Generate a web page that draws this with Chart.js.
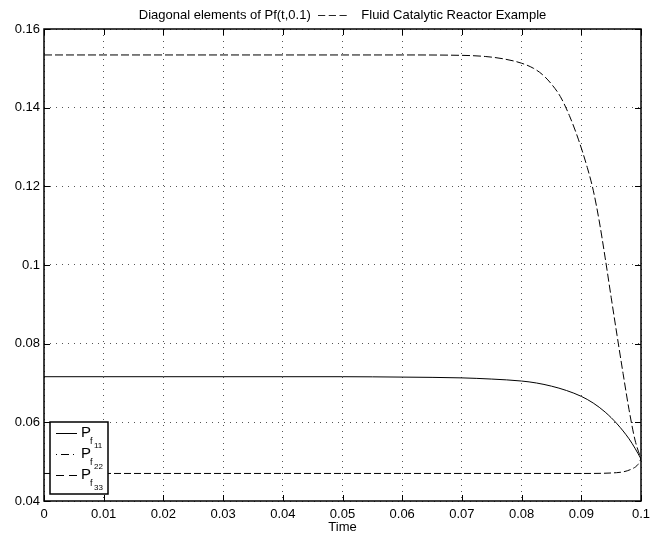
<!DOCTYPE html>
<html><head><meta charset="utf-8">
<script src="https://cdn.jsdelivr.net/npm/chart.js@4/dist/chart.umd.min.js"></script>
<style>html,body{margin:0;padding:0;background:#fff}canvas{display:block}</style>
</head><body>
<canvas id="c" width="662" height="536"></canvas>
<script>
const titleText = "Diagonal elements of Pf(t,0.1)  \u2013 \u2013 \u2013    Fluid Catalytic Reactor Example";
const xAxisTitle = "Time";
const xTickValues = [0, 0.01, 0.02, 0.03, 0.04, 0.05, 0.06, 0.07, 0.08, 0.09, 0.1];
const yTickValues = [0.04, 0.06, 0.08, 0.1, 0.12, 0.14, 0.16];

const p11Time = [0, 0.01, 0.02, 0.03, 0.04, 0.05, 0.06, 0.07, 0.075, 0.08, 0.0825, 0.085, 0.0875, 0.09, 0.092, 0.094, 0.096, 0.098, 0.099, 0.1];
const p11 = [0.0716, 0.0716, 0.0716, 0.0716, 0.0716, 0.0716, 0.0715, 0.0713, 0.0710, 0.0705, 0.0700, 0.0692, 0.0681, 0.0666, 0.0649, 0.0626, 0.0596, 0.0558, 0.0534, 0.0507];

const p22Time = [0, 0.01, 0.02, 0.03, 0.04, 0.05, 0.06, 0.07, 0.074, 0.077, 0.08, 0.082, 0.0835, 0.085, 0.0865, 0.088, 0.0895, 0.091, 0.092, 0.093, 0.094, 0.095, 0.096, 0.097, 0.098, 0.099, 0.1];
const p22 = [0.1534, 0.1534, 0.1534, 0.1534, 0.1534, 0.1534, 0.1534, 0.1533, 0.1530, 0.1524, 0.1513, 0.1500, 0.1484, 0.1460, 0.1428, 0.1380, 0.1320, 0.1248, 0.1190, 0.1112, 0.1018, 0.0918, 0.0820, 0.0724, 0.0632, 0.0555, 0.0507];

const p33Time = [0, 0.01, 0.02, 0.03, 0.04, 0.05, 0.06, 0.07, 0.08, 0.09, 0.0959, 0.0984, 0.0995, 0.1];
const p33 = [0.0470, 0.0470, 0.0470, 0.0470, 0.0470, 0.0470, 0.0470, 0.0470, 0.0470, 0.0470, 0.0472, 0.0481, 0.0493, 0.0507];

const legendNames = ["11", "22", "33"];

const FONT = "'Liberation Sans', Arial, Helvetica, sans-serif";
const fmt = v => String(parseFloat(Number(v).toFixed(4)));
const pts = (t, v) => t.map((x, i) => ({x: x, y: v[i]}));

const deco = {
  id: 'deco',
  afterDatasetsDraw(chart) {
    const ctx = chart.ctx, a = chart.chartArea;
    const xs = chart.scales.x, ys = chart.scales.y;
    ctx.save();
    ctx.strokeStyle = '#000';
    ctx.lineWidth = 1;
    ctx.beginPath();
    xTickValues.forEach(v => {
      const p = Math.round(xs.getPixelForValue(v)) + 0.5;
      ctx.moveTo(p, a.bottom); ctx.lineTo(p, a.bottom - 6);
      ctx.moveTo(p, a.top); ctx.lineTo(p, a.top + 6);
    });
    yTickValues.forEach(v => {
      const p = Math.round(ys.getPixelForValue(v)) + 0.5;
      ctx.moveTo(a.left, p); ctx.lineTo(a.left + 6, p);
      ctx.moveTo(a.right, p); ctx.lineTo(a.right - 6, p);
    });
    ctx.stroke();
    ctx.lineWidth = 1.5;
    ctx.strokeRect(a.left, a.top, a.right - a.left, a.bottom - a.top);
    ctx.fillStyle = '#000';
    ctx.font = "13px " + FONT;
    ctx.textAlign = 'center';
    ctx.textBaseline = 'alphabetic';
    ctx.fillText(titleText, (a.left + a.right) / 2, 19);
    ctx.restore();
  },
  afterDraw(chart) {
    const ctx = chart.ctx;
    ctx.save();
    const bx = 50, by = 422, bw = 58, bh = 72;
    ctx.fillStyle = '#fff';
    ctx.fillRect(bx, by, bw, bh);
    ctx.strokeStyle = '#000';
    ctx.lineWidth = 1.5;
    ctx.strokeRect(bx, by, bw, bh);
    const rows = [433, 454, 475];
    const dashes = [[], [1, 4, 8, 4], [8, 5]];
    rows.forEach((y, i) => {
      ctx.beginPath();
      ctx.setLineDash(dashes[i]);
      ctx.lineWidth = 1;
      ctx.moveTo(56, y + 0.5); ctx.lineTo(77, y + 0.5);
      ctx.stroke();
      ctx.setLineDash([]);
      ctx.fillStyle = '#000';
      ctx.textAlign = 'left';
      ctx.textBaseline = 'alphabetic';
      ctx.font = "15px " + FONT;
      ctx.fillText("P", 81, y + 4);
      ctx.font = "9px " + FONT;
      ctx.fillText("f", 90, y + 11);
      ctx.font = "8px " + FONT;
      ctx.fillText(legendNames[i], 94, y + 15);
    });
    ctx.restore();
  }
};

new Chart(document.getElementById('c'), {
  type: 'line',
  data: {
    datasets: [
      {label: 'P_f11', data: pts(p11Time, p11), borderColor: '#000', borderWidth: 1, pointRadius: 0, cubicInterpolationMode: 'monotone'},
      {label: 'P_f22', data: pts(p22Time, p22), borderColor: '#000', borderWidth: 1, borderDash: [8, 3], pointRadius: 0, cubicInterpolationMode: 'monotone'},
      {label: 'P_f33', data: pts(p33Time, p33), borderColor: '#000', borderWidth: 1, borderDash: [7, 3], pointRadius: 0, cubicInterpolationMode: 'monotone'}
    ]
  },
  options: {
    responsive: false,
    animation: false,
    devicePixelRatio: 1,
    layout: {padding: {top: 29, right: 21, left: 0, bottom: 0}},
    plugins: {legend: {display: false}, tooltip: {enabled: false}, title: {display: false}},
    scales: {
      x: {
        type: 'linear', min: 0, max: 0.1,
        afterBuildTicks: s => { s.ticks = xTickValues.map(v => ({value: v})); },
        afterFit: s => { s.height = 35; },
        grid: {color: '#555', lineWidth: 1, drawTicks: false, borderDash: [1, 5]},
        border: {display: false, dash: [1, 5]},
        ticks: {padding: 6, color: '#000', font: {family: FONT, size: 13}, callback: v => fmt(v), maxRotation: 0, autoSkip: false},
        title: {display: true, text: xAxisTitle, color: '#000', font: {family: FONT, size: 13}, padding: {top: 0, bottom: 1}}
      },
      y: {
        type: 'linear', min: 0.04, max: 0.16,
        afterBuildTicks: s => { s.ticks = yTickValues.map(v => ({value: v})); },
        afterFit: s => { s.width = 44; },
        grid: {color: '#555', lineWidth: 1, drawTicks: false, borderDash: [1, 5]},
        border: {display: false, dash: [1, 5]},
        ticks: {padding: 4, color: '#000', font: {family: FONT, size: 13}, callback: v => fmt(v), autoSkip: false}
      }
    }
  },
  plugins: [deco]
});
</script>
</body></html>
